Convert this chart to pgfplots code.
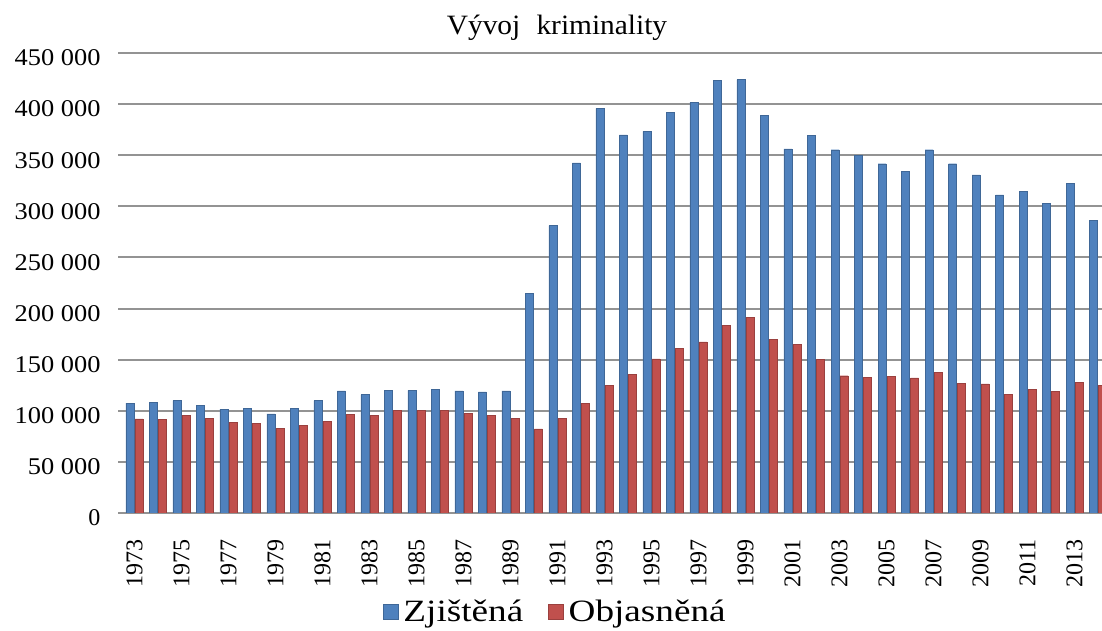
\documentclass[border=0pt]{standalone}
\usepackage{fontspec}
\setmainfont{Liberation Serif}
\usepackage{graphicx}
\usepackage{pgfplots}
\usepackage{pgfplotstable}
\pgfplotsset{compat=1.18}
\definecolor{cblue}{HTML}{4F81BD}
\definecolor{cred}{HTML}{C0504D}
\definecolor{gridc}{HTML}{939393}

\pgfplotstableread{
year z o
1973 107600 92000
1974 108300 91300
1975 109900 95500
1976 105300 92900
1977 101700 88700
1978 102100 88000
1979 96900 82500
1980 102100 85800
1981 109900 89700
1982 119400 96200
1983 115800 95500
1984 119700 100100
1985 120000 100100
1986 121000 100100
1987 119400 97800
1988 118400 95500
1989 119400 92300
1990 214600 82200
1991 281100 92900
1992 342400 107000
1993 395900 124900
1994 369800 135300
1995 373400 150700
1996 392000 161100
1997 401800 167300
1998 423300 183300
1999 423900 191400
2000 388700 170200
2001 356100 165300
2002 369100 150000
2003 355400 134300
2004 349600 133000
2005 341700 133700
2006 333900 132100
2007 355400 137600
2008 341700 126500
2009 330700 126200
2010 311100 116400
2011 314400 120700
2012 302900 119000
2013 322800 127800
2014 286600 124900
}\data

\begin{document}
\begin{tikzpicture}
\path[use as bounding box] (0,0) rectangle (1102bp,631bp);
\begin{axis}[
  at={(118bp,118bp)}, anchor=south west,
  scale only axis, width=984bp, height=460bp,
  xmin=1972.30, xmax=2014.17, ymin=0, ymax=450000,
  ybar=1bp, bar width=8bp,
  axis line style={draw=none},
  major tick length=0pt,
  ymajorgrids, grid style={gridc, line width=2bp},
  scaled y ticks=false,
  ytick={0,50000,100000,150000,200000,250000,300000,350000,400000,450000},
  yticklabels={0,\scalebox{1.1}[1]{50 000},\scalebox{1.1}[1]{100 000},\scalebox{1.1}[1]{150 000},\scalebox{1.1}[1]{200 000},\scalebox{1.1}[1]{250 000},\scalebox{1.1}[1]{300 000},\scalebox{1.1}[1]{350 000},\scalebox{1.1}[1]{400 000},\scalebox{1.1}[1]{450 000}},
  xtick={1973,1975,...,2013},
  xticklabels={1973,1975,1977,1979,1981,1983,1985,1987,1989,1991,1993,1995,1997,1999,2001,2003,2005,2007,2009,2011,2013},
  tick label style={font=\fontsize{24bp}{28bp}\selectfont},
  yticklabel style={xshift=-14bp, yshift=-5bp},
  xticklabel style={yshift=-23bp, rotate=90, anchor=east},
  legend style={at={(0.446,-0.215)}, anchor=center, draw=none, fill=none,
    legend columns=2, font=\fontsize{31bp}{34bp}\selectfont,
    nodes={inner xsep=5bp},
    /tikz/every even column/.append style={column sep=20bp}},
  legend image code/.code={\fill[#1] (0bp,-7.5bp) rectangle (15bp,7.5bp);},
]
\addplot[fill=cblue, draw=cblue!80!black, line width=0.4bp] table[x=year, y=z] {\data};
\addlegendentry{\scalebox{1.2}[1]{Zjištěná}}
\addplot[fill=cred, draw=cred!80!black, line width=0.4bp] table[x=year, y=o] {\data};
\addlegendentry{\scalebox{1.2}[1]{Objasněná}}
\end{axis}
\node[font=\fontsize{28bp}{32bp}\selectfont] at (557bp,603bp) {\scalebox{1.05}[1]{Vývoj\hspace{0.3em} kriminality}};
\end{tikzpicture}
\end{document}
